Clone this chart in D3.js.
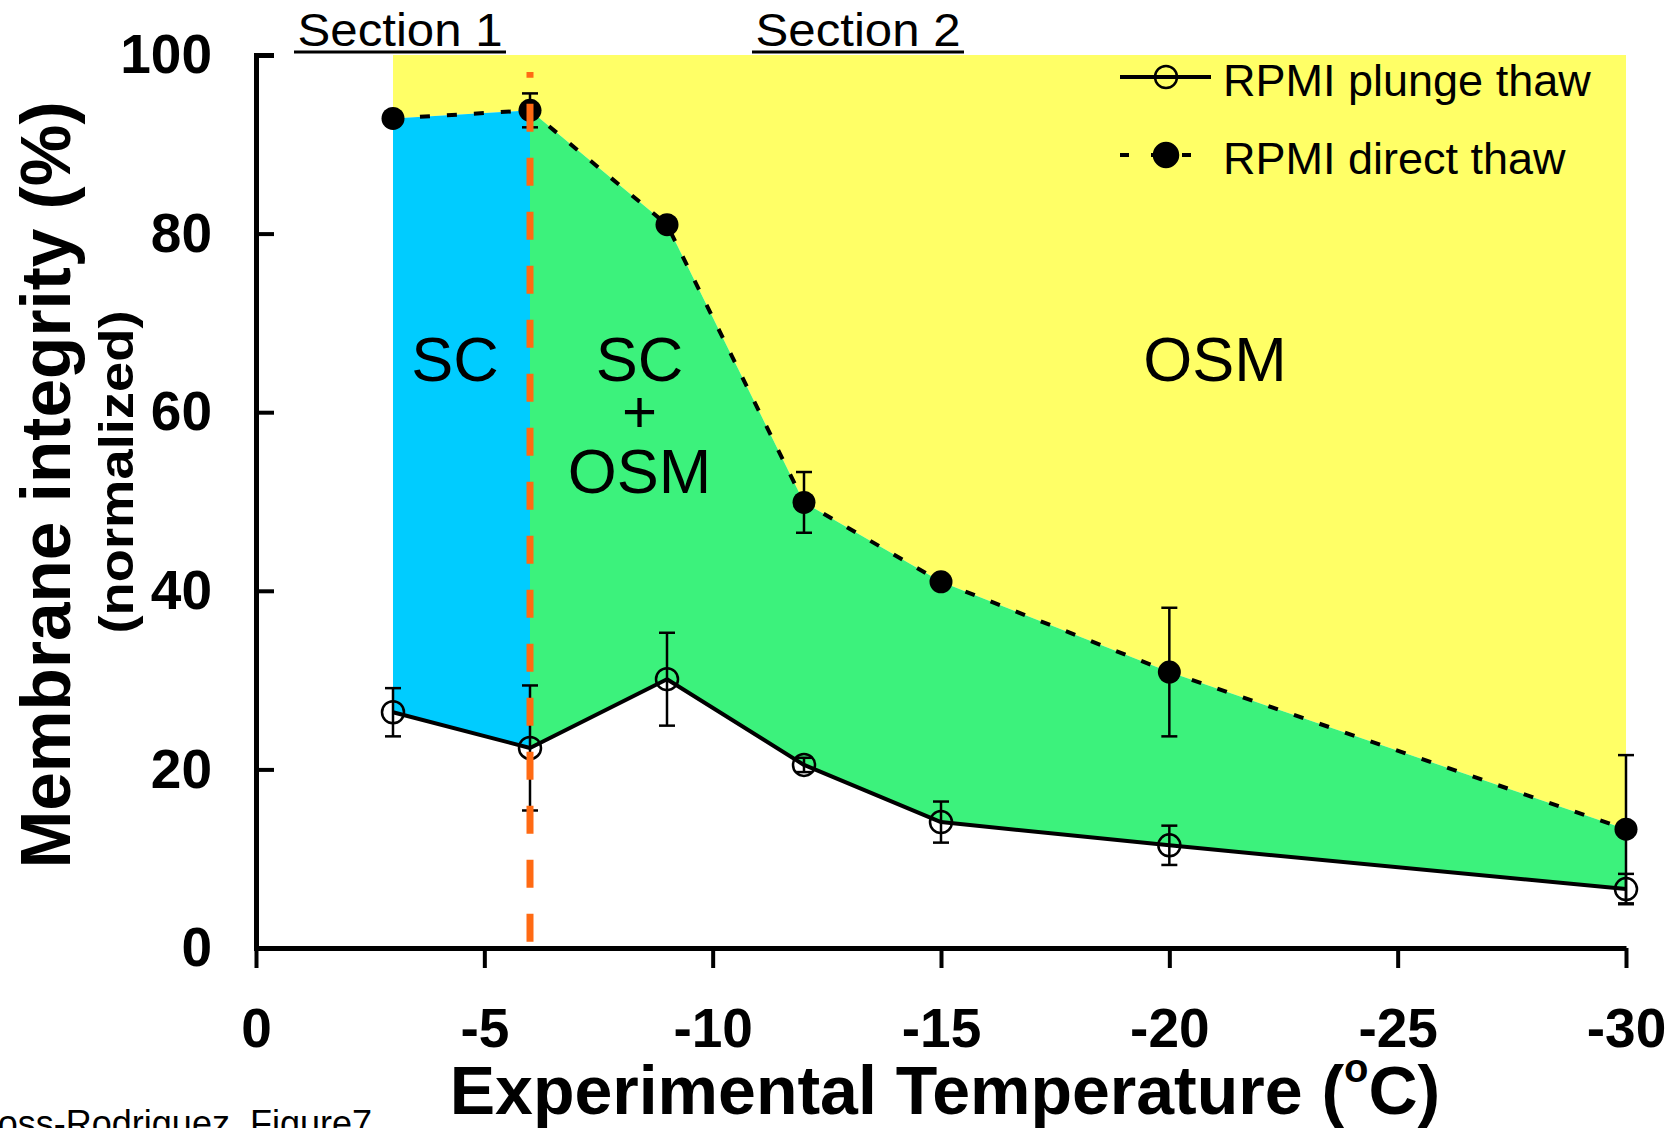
<!DOCTYPE html>
<html>
<head>
<meta charset="utf-8">
<script src="https://cdn.jsdelivr.net/npm/d3@7"></script>
<style>
  html, body { margin: 0; padding: 0; background: #fff; overflow: hidden; }
  svg { display: block; font-family: "Liberation Sans", Arial, Helvetica, sans-serif; }
</style>
</head>
<body>
<svg id="chart" width="1680" height="1128"></svg>
<script>
// values
const temps = [-3, -6, -9, -12, -15, -20, -30];
const plunge = [26.4, 22.4, 30.1, 20.5, 14.1, 11.5, 6.6];
const plungeErr = [2.7, 7.0, 5.2, 0.8, 2.3, 2.2, 1.7];
const direct = [92.9, 93.8, 81.0, 49.9, 41.0, 30.9, 13.3];
const directErr = [0, 1.9, 0, 3.4, 0, 7.2, 8.3];
const xTicks = [0, -5, -10, -15, -20, -25, -30];
const yTicks = [0, 20, 40, 60, 80, 100];
const seriesNames = ["RPMI plunge thaw", "RPMI direct thaw"];
const sectionNames = ["Section 1", "Section 2"];
const boundaryTemp = -6;

const COL = { yellow: "#ffff66", blue: "#00ccff", green: "#3cf27c", orange: "#ff6a13" };

const svg = d3.select("#chart");
const x = d3.scaleLinear().domain([0, -30]).range([256, 1626]);
const y = d3.scaleLinear().domain([0, 100]).range([948, 55]);

const pts = temps.map((t, i) => ({ t, p: plunge[i], pe: plungeErr[i], d: direct[i], de: directErr[i] }));
const split = temps.indexOf(boundaryTemp);

// shaded regions
svg.append("path").datum(pts)
  .attr("fill", COL.yellow)
  .attr("d", d3.area().x((d) => x(d.t)).y0(y(100)).y1((d) => y(d.d)));
const between = d3.area().x((d) => x(d.t)).y0((d) => y(d.p)).y1((d) => y(d.d));
svg.append("path").datum(pts.slice(0, split + 1)).attr("fill", COL.blue).attr("d", between);
svg.append("path").datum(pts.slice(split)).attr("fill", COL.green).attr("d", between);

// region labels
const regionText = svg.append("g").attr("fill", "#000").attr("font-size", 63).attr("text-anchor", "middle");
regionText.append("text").attr("x", x(-4.36)).attr("y", y(66) + 22).text("SC");
regionText.append("text").attr("x", x(-8.4)).attr("y", y(66) + 22).text("SC");
regionText.append("text").attr("x", x(-8.4)).attr("y", y(60) + 20).attr("font-size", 60).text("+");
regionText.append("text").attr("x", x(-8.4)).attr("y", y(53.4) + 22).text("OSM");
regionText.append("text").attr("x", x(-21)).attr("y", y(66) + 22).text("OSM");

// series lines
const line = (key) => d3.line().x((d) => x(d.t)).y((d) => y(d[key]));
svg.append("path").datum(pts).attr("fill", "none").attr("stroke", "#000")
  .attr("stroke-width", 4).attr("stroke-dasharray", "10 17").attr("d", line("d"));
svg.append("path").datum(pts).attr("fill", "none").attr("stroke", "#000")
  .attr("stroke-width", 4).attr("stroke-linejoin", "round").attr("d", line("p"));

// error bars
function errorBars(key, errKey) {
  const g = svg.append("g").attr("stroke", "#000").attr("stroke-width", 2.5);
  pts.filter((d) => d[errKey] > 0).forEach((d) => {
    const cx = x(d.t), top = y(d[key] + d[errKey]), bot = y(d[key] - d[errKey]);
    g.append("line").attr("x1", cx).attr("x2", cx).attr("y1", top).attr("y2", bot);
    g.append("line").attr("x1", cx - 8).attr("x2", cx + 8).attr("y1", top).attr("y2", top);
    g.append("line").attr("x1", cx - 8).attr("x2", cx + 8).attr("y1", bot).attr("y2", bot);
  });
}
errorBars("d", "de");
errorBars("p", "pe");

// markers
svg.append("g").selectAll("circle").data(pts).join("circle")
  .attr("cx", (d) => x(d.t)).attr("cy", (d) => y(d.d)).attr("r", 11.5).attr("fill", "#000");
svg.append("g").selectAll("circle").data(pts).join("circle")
  .attr("cx", (d) => x(d.t)).attr("cy", (d) => y(d.p)).attr("r", 11)
  .attr("fill", "none").attr("stroke", "#000").attr("stroke-width", 2.5);

// orange boundary between the two sections
svg.append("line")
  .attr("x1", x(boundaryTemp)).attr("x2", x(boundaryTemp))
  .attr("y1", y(0.7)).attr("y2", y(98.1))
  .attr("stroke", COL.orange).attr("stroke-width", 7)
  .attr("stroke-dasharray", "28 26");

// axes
const xAxis = svg.append("g").attr("transform", `translate(0,${y(0)})`)
  .call(d3.axisBottom(x).tickValues(xTicks).tickFormat(d3.format("d"))
    .tickSizeInner(20).tickSizeOuter(0).tickPadding(40));
xAxis.select(".domain").attr("stroke-width", 5);
xAxis.selectAll(".tick line").attr("stroke-width", 4);
xAxis.selectAll(".tick text").attr("font-size", 55).attr("font-weight", "bold")
  .attr("font-family", null).attr("fill", "#000")
  .text((d) => (d === 0 ? "0" : "-" + Math.abs(d)));

const yAxis = svg.append("g").attr("transform", `translate(${x(0)},0)`)
  .call(d3.axisLeft(y).tickValues(yTicks).tickFormat(d3.format("d"))
    .tickSizeInner(-18).tickSizeOuter(-18).tickPadding(44));
yAxis.select(".domain").attr("stroke-width", 5);
yAxis.selectAll(".tick line").attr("stroke-width", 4);
yAxis.selectAll(".tick text").attr("font-size", 55).attr("font-weight", "bold")
  .attr("font-family", null).attr("fill", "#000");

// axis titles
svg.append("text")
  .attr("transform", "translate(70,485) rotate(-90)")
  .attr("text-anchor", "middle").attr("font-size", 70).attr("font-weight", "bold")
  .attr("textLength", 767).attr("lengthAdjust", "spacingAndGlyphs")
  .text("Membrane integrity (%)");
svg.append("text")
  .attr("transform", "translate(133,472) rotate(-90)")
  .attr("text-anchor", "middle").attr("font-size", 48).attr("font-weight", "bold")
  .attr("textLength", 323).attr("lengthAdjust", "spacingAndGlyphs")
  .text("(normalized)");

const xt = svg.append("text").attr("x", 945).attr("y", 1114)
  .attr("text-anchor", "middle").attr("font-size", 68).attr("font-weight", "bold");
xt.append("tspan").text("Experimental Temperature (");
xt.append("tspan").attr("font-size", 40).attr("dy", -32).text("o");
xt.append("tspan").attr("dy", 32).text("C)");

// section headings
const sectionX = [400, 858];
sectionNames.forEach((s, i) => {
  svg.append("text").attr("x", sectionX[i]).attr("y", 46)
    .attr("text-anchor", "middle").attr("font-size", 46)
    .attr("textLength", 205).attr("lengthAdjust", "spacingAndGlyphs").text(s);
  svg.append("line").attr("x1", sectionX[i] - 106).attr("x2", sectionX[i] + 106)
    .attr("y1", 52).attr("y2", 52).attr("stroke", "#000").attr("stroke-width", 3);
});

// legend
const lg = svg.append("g");
[77, 155].forEach((ly, i) => {
  lg.append("line").attr("x1", 1120).attr("x2", 1211).attr("y1", ly).attr("y2", ly)
    .attr("stroke", "#000").attr("stroke-width", 4)
    .attr("stroke-dasharray", i === 1 ? "9 22" : null);
  lg.append("circle").attr("cx", 1166).attr("cy", ly).attr("r", i === 1 ? 12 : 11)
    .attr("fill", i === 1 ? "#000" : "none").attr("stroke", "#000").attr("stroke-width", 2.5);
  lg.append("text").attr("x", 1223).attr("y", ly + 19).attr("font-size", 45).text(seriesNames[i]);
});

// file tag, clipped at the page corner as in the source image
svg.append("text").attr("x", 372).attr("y", 1136).attr("text-anchor", "end")
  .attr("font-size", 36).text("Ross-Rodriguez_Figure7");
</script>
</body>
</html>
